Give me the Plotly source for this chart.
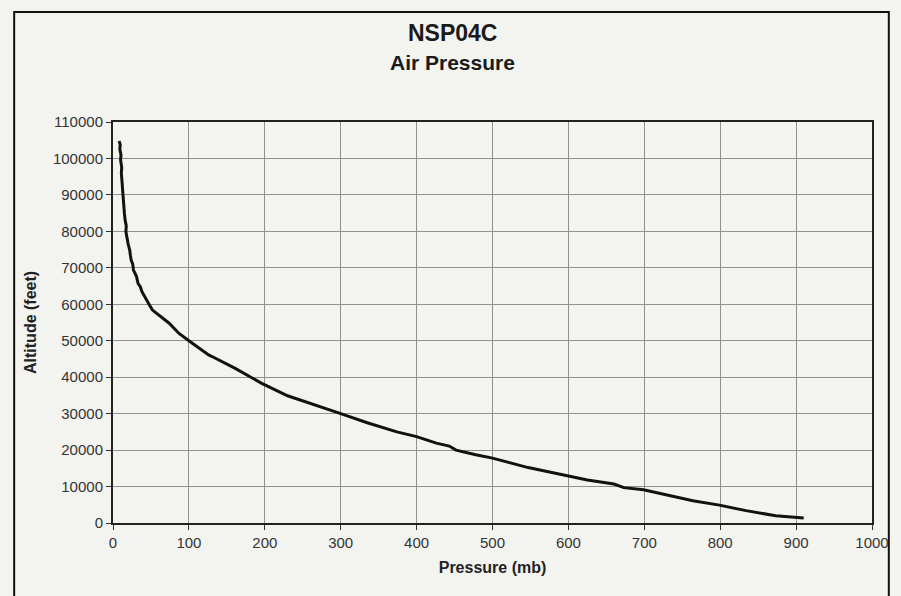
import plotly.graph_objects as go

# Data (pressure in mb, altitude in feet)
pressure = [910, 873, 834, 799, 764, 721, 699, 673, 660, 625, 599, 582, 547, 500,
            478, 452, 443, 426, 400, 374, 335, 300, 265, 230, 196, 161, 135, 126,
            100, 87, 74, 62, 57, 52, 48, 44, 42, 38, 36, 33, 31, 29, 27, 26, 24,
            23, 22, 20, 19, 17, 17.5, 16, 15, 14.5, 14, 13, 12.5, 12, 11, 11.5,
            10, 10.5, 9, 9.5, 8]
altitude = [1400, 2000, 3400, 4900, 6100, 8000, 9100, 9700, 10700, 11800, 12900,
            13800, 15200, 17800, 18700, 20000, 21100, 21900, 23700, 25000, 27500,
            30000, 32500, 34900, 38300, 42400, 45200, 46100, 50000, 52000, 54800,
            56800, 57500, 58400, 59800, 61300, 62100, 63500, 64800, 65700, 67600,
            68300, 69400, 71000, 72100, 73300, 74900, 76500, 78000, 79900, 81500,
            83000, 85000, 86500, 88000, 90000, 92000, 94000, 96000, 97500, 99600,
            101000, 102500, 103800, 104800]

x_ticks = [0, 100, 200, 300, 400, 500, 600, 700, 800, 900, 1000]
y_ticks = [0, 10000, 20000, 30000, 40000, 50000, 60000, 70000, 80000, 90000,
           100000, 110000]

title_main = "NSP04C"
title_sub = "Air Pressure"
x_title = "Pressure (mb)"
y_title = "Altitude (feet)"

BG = "#f3f3f0"
FONT = "Liberation Sans, Arial, sans-serif"

fig = go.Figure()
fig.add_trace(go.Scatter(x=pressure, y=altitude, mode="lines",
                         line=dict(color="#111111", width=3),
                         showlegend=False, hoverinfo="skip"))

W, H = 901, 596
L, R, T, B = 113, 20, 122, 73
pw, ph = W - L - R, H - T - B

def px_x(px):
    return (px - L) / pw

def px_y(py):
    return (H - B - py) / ph

fig.update_layout(
    width=W, height=H,
    margin=dict(l=L, r=R, t=T, b=B),
    paper_bgcolor=BG, plot_bgcolor=BG,
    font=dict(family=FONT, color="#222222", size=14),
    xaxis=dict(range=[0, 1000], tickvals=x_ticks,
               ticktext=[str(v) for v in x_ticks],
               showgrid=True, gridcolor="#909090", gridwidth=1,
               showline=True, linecolor="#222222", linewidth=2, mirror=True,
               ticks="outside", ticklen=5, tickcolor="#333333",
               tickfont=dict(size=15, color="#333333"), zeroline=False,
               title=dict(text="<b>" + x_title + "</b>",
                          font=dict(size=16, color="#222222"), standoff=12)),
    yaxis=dict(range=[0, 110000], tickvals=y_ticks,
               ticktext=[str(v) for v in y_ticks],
               showgrid=True, gridcolor="#909090", gridwidth=1,
               showline=True, linecolor="#222222", linewidth=2, mirror=True,
               ticks="outside", ticklen=5, tickcolor="#333333",
               tickfont=dict(size=15, color="#333333"), zeroline=False),
    shapes=[dict(type="rect", xref="paper", yref="paper",
                 x0=px_x(13), x1=px_x(898), y0=px_y(605), y1=px_y(12),
                 line=dict(color="#111111", width=2), fillcolor="rgba(0,0,0,0)",
                 layer="below")],
    annotations=[
        dict(text="<b>" + title_main + "</b>", xref="paper", yref="paper",
             x=px_x(457), y=px_y(33), showarrow=False,
             font=dict(size=23, color="#1a1a1a"), xanchor="center", yanchor="middle"),
        dict(text="<b>" + title_sub + "</b>", xref="paper", yref="paper",
             x=px_x(457), y=px_y(63), showarrow=False,
             font=dict(size=21, color="#1a1a1a"), xanchor="center", yanchor="middle"),
        dict(text="<b>" + y_title + "</b>", xref="paper", yref="paper",
             x=px_x(29), y=px_y(322), showarrow=False, textangle=-90,
             font=dict(size=16, color="#222222"), xanchor="center", yanchor="middle"),
    ],
)

fig.write_html("out.html")
